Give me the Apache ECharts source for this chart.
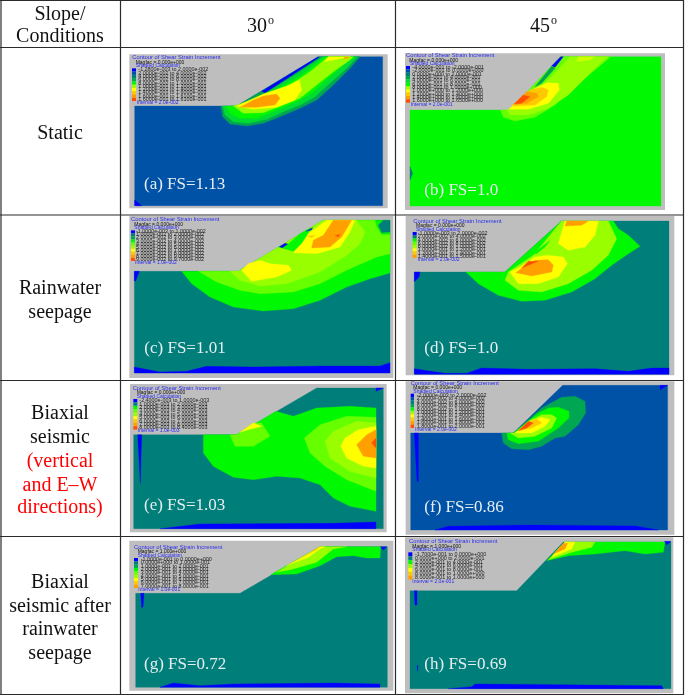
<!DOCTYPE html>
<html><head><meta charset="utf-8">
<style>html,body{margin:0;padding:0;background:#fff}#c{width:685px;height:696px;filter:blur(.45px)}</style>
<script src="https://cdn.jsdelivr.net/npm/echarts@6/dist/echarts.min.js"></script>
</head><body><div id="c"></div>
<script>
const colLabels = ['30', '45'];
const headerLines = ['Slope/', 'Conditions'];
const rowLines = [['Static'], ['Rainwater', 'seepage'], ['Biaxial', 'seismic', '(vertical', 'and E–W', 'directions)'], ['Biaxial', 'seismic after', 'rainwater', 'seepage']];
const redLines = ['(vertical', 'and E–W', 'directions)'];
const fsLabels = ['(a) FS=1.13', '(b) FS=1.0', '(c) FS=1.01', '(d) FS=1.0', '(e) FS=1.03', '(f) FS=0.86', '(g) FS=0.72', '(h) FS=0.69'];
const legendTitle = 'Contour of Shear Strain Increment';
const legendCalc = 'Shadied Calculation';

// contour bands of each panel, outer to inner: [colour key, outline in model units]
const bandsA = [
 ['steel', [[404,318],[710,318],[955,170],[1148,170],[1148,617],[404,617]]],
 ['blue', [[404,600],[425,617],[404,617]]],
 ['mid', [[663,318],[668,350],[690,372],[740,378],[790,370],[840,350],[900,325],[950,300],[1000,255],[1050,205],[1080,170],[955,170],[710,318]]],
 ['blue', [[785,274],[952,172],[958,172],[860,236],[795,278]]],
 ['green2', [[668,318],[675,345],[700,365],[745,370],[800,358],[850,335],[900,315],[945,290],[995,245],[1040,205],[1072,170],[968,170],[880,228],[790,285],[720,318]]],
 ['green', [[678,318],[690,340],[720,355],[770,355],[830,330],[890,305],[935,280],[985,235],[1030,195],[1065,170],[975,170],[905,225],[800,285],[720,318]]],
 ['lime', [[700,318],[730,340],[790,338],[850,315],[900,295],[950,255],[1000,215],[1050,180],[1060,170],[985,170],[930,215],[870,255],[790,290],[720,312]]],
 ['yellow', [[710,318],[760,328],[830,322],[885,300],[905,270],[898,240],[860,258],[790,282]]],
 ['yellow', [[975,185],[1010,178],[1052,170],[985,170]]],
 ['orange', [[720,322],[770,322],[825,315],[840,295],[830,282],[790,288],[760,300]]],
 ['orange', [[1030,178],[1050,172],[1035,170]]]
];
const bandsB = [
 ['green', [[45,210],[345,210],[497,50],[798,50],[798,498],[45,498]]],
 ['teal', [[45,380],[53,400],[45,420]]],
 ['lime2', [[316,210],[325,232],[360,243],[420,232],[480,195],[550,130],[600,90],[647,50],[497,50],[345,210]]],
 ['blue', [[470,78],[497,50],[505,50],[480,82]]],
 ['mid', [[420,140],[470,78],[480,85],[440,130]]],
 ['lime', [[335,210],[345,225],[400,225],[460,205],[520,165],[575,110],[610,75],[640,50],[525,50],[470,110],[400,170],[345,205]]],
 ['yellow', [[342,208],[400,208],[460,190],[493,150],[490,130],[455,128],[410,150],[360,190]]],
 ['paleYellow', [[545,65],[585,60],[600,50],[550,50]]],
 ['gold', [[350,198],[420,195],[455,170],[460,150],[440,142],[405,150],[375,175]]],
 ['orange', [[357,194],[395,190],[430,170],[425,160],[395,155],[375,175]]],
 ['red', [[357,192],[380,190],[405,170],[385,165]]]
];
const bandsC = [
 ['teal', [[43,178],[355,178],[610,25],[810,25],[810,483],[43,483]]],
 ['blue', [[43,465],[120,480],[200,478],[260,463],[400,465],[600,462],[780,462],[810,452],[810,483],[43,483]]],
 ['blue', [[43,178],[58,178],[47,207],[43,207]]],
 ['green', [[185,178],[215,215],[270,255],[340,285],[430,297],[520,290],[600,265],[680,225],[750,200],[810,183],[810,25],[610,25],[355,178]]],
 ['lime2', [[235,178],[290,210],[360,235],[420,245],[520,240],[600,215],[680,175],[770,135],[810,125],[810,68],[785,68],[770,45],[765,25],[610,25],[355,178]]],
 ['teal', [[775,40],[790,25],[810,25],[810,60],[785,62]]],
 ['lime', [[330,178],[360,205],[420,222],[500,215],[600,180],[680,130],[720,95],[735,60],[710,25],[610,25],[355,178]]],
 ['green', [[475,105],[505,95],[540,65],[572,47],[555,85],[520,118]]],
 ['blue', [[478,104],[495,94],[503,96],[487,107]]],
 ['blue', [[558,58],[578,47],[574,54]]],
 ['yellow', [[365,175],[395,208],[470,195],[515,175],[505,160],[450,155],[420,145],[385,155]]],
 ['yellow', [[520,122],[590,125],[660,105],[690,60],[705,25],[620,25],[565,65],[545,95]]],
 ['orange', [[575,108],[630,105],[665,75],[695,25],[640,25],[610,70],[580,85]]],
 ['red', [[645,70],[660,68],[655,75]]],
 ['gold', [[562,72],[585,70],[575,77]]]
];
const bandsD = [
 ['teal', [[58,180],[330,180],[500,27],[822,27],[822,487],[58,487]]],
 ['blue', [[58,470],[150,484],[215,484],[260,468],[400,472],[600,470],[700,478],[770,468],[822,468],[822,487],[58,487]]],
 ['blue', [[58,180],[75,180],[72,195],[60,208],[58,208]]],
 ['green', [[213,180],[250,215],[310,250],[380,268],[450,265],[530,240],[600,200],[650,160],[700,125],[735,103],[700,70],[670,50],[655,27],[500,27],[330,180]]],
 ['lime', [[330,205],[370,235],[440,240],[520,215],[590,175],[640,130],[665,80],[640,27],[500,27],[415,130],[340,180]]],
 ['green', [[415,125],[465,85],[450,105],[425,125]]],
 ['yellow', [[345,180],[370,215],[430,215],[490,195],[517,155],[505,135],[460,130],[420,135],[375,165]]],
 ['yellow', [[490,95],[520,115],[570,105],[600,70],[610,27],[510,27],[500,60]]],
 ['orange', [[510,42],[560,40],[580,27],[515,27]]],
 ['orange', [[362,182],[410,192],[470,180],[475,160],[460,143],[420,145],[385,165]]],
 ['red', [[380,168],[430,148],[400,148],[388,160]]]
];
const bandsE = [
 ['teal', [[401,170],[710,170],[950,30],[1150,30],[1150,452],[401,452]]],
 ['blue', [[413,170],[425,170],[421,316]]],
 ['blue', [[480,452],[600,438],[1000,436],[1128,432],[1128,452]]],
 ['blue', [[1128,30],[1150,30],[1128,40]]],
 ['green', [[610,170],[610,225],[640,265],[700,298],[760,305],[830,295],[900,300],[960,320],[1000,360],[1050,385],[1128,400],[1128,90],[1050,85],[950,90],[880,115],[828,100],[710,170]]],
 ['lime2', [[690,170],[705,205],[760,205],[810,175],[785,135],[760,135],[710,170]]],
 ['yellow', [[720,163],[760,135],[785,145],[745,155]]],
 ['lime2', [[913,180],[930,225],[975,265],[1040,305],[1128,340],[1128,118],[1040,115],[960,140]]],
 ['lime', [[975,190],[990,240],[1050,280],[1128,300],[1128,135],[1070,130],[1000,160]]],
 ['yellow', [[1022,205],[1040,240],[1090,265],[1128,270],[1128,145],[1075,155],[1035,180]]],
 ['orange', [[1070,200],[1090,235],[1128,240],[1128,155],[1100,170]]],
 ['red', [[1115,195],[1128,180],[1128,210]]]
];
const bandsF = [
 ['steel', [[47,165],[355,165],[503,22],[818,22],[818,456],[47,456]]],
 ['blue', [[58,165],[70,165],[70,310],[66,310]]],
 ['blue', [[120,456],[160,445],[400,441],[720,444],[790,456]]],
 ['blue', [[795,22],[818,22],[795,35]]],
 ['mid', [[320,165],[325,195],[350,212],[400,215],[440,205],[480,180],[510,175],[550,140],[572,105],[570,70],[540,55],[500,58],[440,90],[355,165]]],
 ['green', [[335,165],[340,185],[370,197],[430,190],[490,150],[522,120],[522,100],[490,88],[460,90],[430,105],[355,165]]],
 ['lime', [[345,165],[370,180],[420,175],[470,150],[485,120],[470,110],[440,110],[400,130],[360,165]]],
 ['yellow', [[360,165],[410,165],[450,145],[465,125],[440,118],[405,130]]],
 ['gold', [[368,160],[410,150],[440,135],[425,123],[400,132]]],
 ['red', [[370,158],[395,150],[415,135],[400,130]]]
];
const bandsG = [
 ['teal', [[407,178],[720,178],[960,38],[1162,38],[1162,460],[407,460]]],
 ['blue', [[422,178],[432,178],[429,220],[425,220]]],
 ['blue', [[480,460],[520,447],[600,455],[700,450],[1000,447],[1140,450],[1140,460]]],
 ['blue', [[1140,38],[1160,38],[1150,48]]],
 ['green', [[812,122],[890,120],[960,95],[1010,68],[1060,65],[1100,72],[1140,72],[1142,38],[960,38]]],
 ['lime', [[830,115],[880,105],[950,85],[1000,45],[1040,38],[960,38],[880,85]]],
 ['yellow', [[860,95],[925,70],[960,45],[975,38],[960,38],[910,68]]],
 ['gold', [[900,72],[950,48],[960,38],[925,60]]]
];
const bandsH = [
 ['teal', [[45,170],[365,170],[505,24],[828,24],[828,464],[45,464]]],
 ['blue', [[58,170],[66,170],[66,213],[60,213]]],
 ['blue', [[66,395],[69,395],[68,412]]],
 ['blue', [[160,464],[230,458],[240,450],[500,452],[800,455],[805,464]]],
 ['blue', [[808,22],[828,22],[815,33]]],
 ['green', [[455,80],[520,65],[600,60],[690,50],[750,60],[805,55],[810,24],[510,24]]],
 ['lime', [[460,78],[530,55],[590,40],[600,24],[510,24]]],
 ['yellow', [[470,70],[530,45],[540,24],[510,24]]],
 ['orange', [[475,60],[510,45],[518,28],[505,28]]]
];

// legend class limits of each panel
const limitsA = [-0.00128, 0.02, 0.04, 0.06, 0.08, 0.1, 0.12, 0.14, 0.16, 0.161];
const limitsB = [-0.4, -0.2, 0, 0.2, 0.4, 0.6, 0.8, 1, 1.2, 1.4, 1.6, 1.65];
const limitsC = [-0.001, 0.01, 0.02, 0.03, 0.04, 0.05, 0.06, 0.07, 0.08, 0.09, 0.097];
const limitsD = [-0.001, 0.02, 0.04, 0.06, 0.08, 0.1, 0.12, 0.14, 0.15];
const limitsE = [-0.0024, 0.001, 0.002, 0.003, 0.004, 0.005, 0.006, 0.007, 0.008, 0.0084];
const limitsF = [-0.002, 0.02, 0.04, 0.06, 0.08, 0.1, 0.12, 0.14, 0.16, 0.18, 0.2];
const limitsG = [-0.1, 0, 0.1, 0.2, 0.3, 0.4, 0.5, 0.6, 0.7, 0.8];
const limitsH = [-0.17, 0, 0.2, 0.4, 0.6, 0.8, 1.0];
const magfacLabels = ['0.000e+000', '0.000e+000', '0.000e+000', '0.000e+000', '0.000e+000', '0.000e+000', '1.000e+000', '1.000e+000'];
const intervalLabels = ['2.0e-002', '2.0e-001', '1.0e-002', '2.0e-002', '1.0e-003', '2.0e-002', '1.0e-001', '2.0e-001'];
const keysA = ['blue','steel','teal','mid','green','lime','yellow','gold','orange','red'];
const keysB = ['blue','steel','teal','mid','green2','green','lime','yellow','gold','orange','red'];
const keysC = ['blue','teal','mid','green','lime2','lime','yellow','gold','orange','red'];
const keysD = ['blue','teal','green','lime2','lime','yellow','gold','orange'];
const keysE = ['blue','teal','green','lime2','lime','yellow','gold','orange','red'];
const keysF = ['blue','steel','teal','mid','green','lime','yellow','gold','orange','red'];
const keysG = ['blue','teal','mid','green','lime2','lime','yellow','gold','orange'];
const keysH = ['blue','teal','green','lime','yellow','gold','orange'];

// ---- styles and layout ----
const palette = {blue:'#0000FF', steel:'#0052A6', teal:'#007E7A', mid:'#00A651', green2:'#00DC30', green:'#00F800', lime2:'#66FF00', lime:'#99FF00', paleYellow:'#CCFF00', yellow:'#FFFF00', gold:'#FFC800', orange:'#FFA000', red:'#FF5000'};
const serif = '"Liberation Serif","Times New Roman",serif';
const sans = '"Liberation Sans",Arial,sans-serif';
const panels = [
 {b:bandsA, l:limitsA, k:keysA, crop:[0,0], f:[388,1163,163,625], fs:[432,555], t:[397,173], m:[407,187], c:[407,198], sw:[396,408,205,303], tx:415, iv:[410,309]},
 {b:bandsB, l:limitsB, k:keysB, crop:[395,40], f:[30,810,40,510], fs:[88,453], t:[33,47], m:[43,61], c:[45,72], sw:[33,45,78,188], tx:52, iv:[47,194]},
 {b:bandsC, l:limitsC, k:keysC, crop:[120,212], f:[28,820,12,498], fs:[73,410], t:[33,22], m:[43,37], c:[43,48], sw:[33,45,55,147], tx:48, iv:[45,152]},
 {b:bandsD, l:limitsD, k:keysD, crop:[395,212], f:[32,838,12,490], fs:[88,410], t:[55,27], m:[63,42], c:[63,53], sw:[53,65,60,138], tx:68, iv:[68,143]},
 {b:bandsE, l:limitsE, k:keysE, crop:[0,378], f:[390,1160,18,463], fs:[432,383], t:[398,31], m:[410,45], c:[410,57], sw:[400,412,63,155], tx:418, iv:[413,158]},
 {b:bandsF, l:limitsF, k:keysF, crop:[395,378], f:[32,838,10,470], fs:[88,388], t:[47,16], m:[55,30], c:[55,40], sw:[47,57,47,150], tx:65, iv:[60,155]},
 {b:bandsG, l:limitsG, k:keysG, crop:[0,534], f:[388,1180,20,470], fs:[432,391], t:[402,40], m:[413,54], c:[413,65], sw:[402,414,72,162], tx:422, iv:[415,168]},
 {b:bandsH, l:limitsH, k:keysH, crop:[395,534], f:[30,835,10,478], fs:[88,391], t:[42,22], m:[52,37], c:[52,48], sw:[40,52,55,137], tx:60, iv:[52,143]}
];
const vLines = [1, 120.5, 395.5, 683.5];
const hLines = [0.5, 47.5, 215, 380.5, 536.5, 694.5];
const colCentres = [257, 540];
const rowTextY = [[134], [289, 313], [414, 438, 462, 486, 508], [583, 607, 630, 654]];

function sci(v) {
  const [m, e] = v.toExponential(4).split('e');
  const n = Math.abs(+e);
  return m + 'e' + (+e < 0 ? '-' : '+') + String(n).padStart(3, '0');
}

const grid = [], xAxis = [], yAxis = [], series = [];
panels.forEach((p, i) => {
  grid.push({left: p.crop[0] + p.f[0] / 3, top: p.crop[1] + p.f[2] / 3, width: (p.f[1] - p.f[0]) / 3, height: (p.f[3] - p.f[2]) / 3, show: true, backgroundColor: '#BEBEBE', borderWidth: 0});
  xAxis.push({type: 'value', gridIndex: i, min: p.f[0], max: p.f[1], show: false});
  yAxis.push({type: 'value', gridIndex: i, min: p.f[2], max: p.f[3], inverse: true, show: false});
  series.push({
    type: 'custom', name: fsLabels[i], xAxisIndex: i, yAxisIndex: i, silent: true, animation: false,
    data: p.b.map(b => b[1][0]),
    renderItem(params, api) {
      const band = p.b[params.dataIndex];
      return {type: 'polygon', shape: {points: band[1].map(pt => api.coord(pt))}, style: {fill: palette[band[0]], stroke: palette[band[0]], lineWidth: .3}};
    }
  });
  const rows = p.k.length, rowH = (p.sw[3] - p.sw[2]) / rows;
  series.push({
    type: 'custom', name: fsLabels[i] + ' legend', xAxisIndex: i, yAxisIndex: i, silent: true, animation: false, z: 3,
    data: p.k.map((k, r) => [p.sw[0], p.sw[2] + r * rowH]),
    renderItem(params, api) {
      const r = params.dataIndex;
      const a = api.coord([api.value(0), api.value(1)]), b = api.coord([p.sw[1], api.value(1) + rowH]);
      const lo = p.l[Math.min(r, p.l.length - 2)], hi = p.l[Math.min(r + 1, p.l.length - 1)];
      return {type: 'group', children: [
        {type: 'rect', shape: {x: a[0], y: a[1], width: b[0] - a[0], height: b[1] - a[1]}, style: {fill: palette[p.k[r]]}},
        {type: 'text', style: {x: api.coord([p.tx, 0])[0], y: (a[1] + b[1]) / 2, text: sci(lo) + ' to ' + sci(hi), font: '5.4px ' + sans, fill: '#222', verticalAlign: 'middle'}}
      ]};
    }
  });
  series.push({
    type: 'custom', name: fsLabels[i] + ' text', xAxisIndex: i, yAxisIndex: i, silent: true, animation: false, z: 4,
    data: [p.fs, p.t, p.m, p.c, p.iv],
    renderItem(params, api) {
      const pt = api.coord([api.value(0), api.value(1)]);
      const spec = [
        [fsLabels[i], '17px ' + serif, '#E6EEF0'],
        [legendTitle, '5.8px ' + sans, '#2A2AF0'],
        ['Magfac = ' + magfacLabels[i], '5px ' + sans, '#111'],
        [legendCalc, '5px ' + sans, '#2A2AF0'],
        ['Interval = ' + intervalLabels[i], '5px ' + sans, '#2A2AF0']
      ][params.dataIndex];
      return {type: 'text', style: {x: pt[0], y: pt[1], text: spec[0], font: spec[1], fill: spec[2], verticalAlign: 'middle'}};
    }
  });
});

const graphic = [];
vLines.forEach(x => graphic.push({type: 'line', silent: true, z: 20, shape: {x1: x, y1: 0, x2: x, y2: 695}, style: {stroke: '#2b2b2b', lineWidth: 1.2}}));
hLines.forEach(y => graphic.push({type: 'line', silent: true, z: 20, shape: {x1: 0, y1: y, x2: 684, y2: y}, style: {stroke: '#2b2b2b', lineWidth: 1.2}}));
const cellText = (x, y, text, size, fill) => graphic.push({type: 'text', silent: true, z: 20, style: {x, y, text, font: size + 'px ' + serif, fill: fill || '#111', align: 'center', verticalAlign: 'middle'}});
headerLines.forEach((t, i) => cellText(60, i ? 37 : 15, t, 20));
colLabels.forEach((t, i) => {
  cellText(colCentres[i], 27, t, 20);
  cellText(colCentres[i] + 14, 21, 'o', 12);
});
rowLines.forEach((lines, r) => lines.forEach((t, i) => cellText(60, rowTextY[r][i], t, 20, redLines.includes(t) ? '#FF0000' : '#111')));

const chart = echarts.init(document.getElementById('c'), null, {renderer: 'canvas'});
chart.setOption({animation: false, backgroundColor: '#fff', grid, xAxis, yAxis, series, graphic});
</script></body></html>
